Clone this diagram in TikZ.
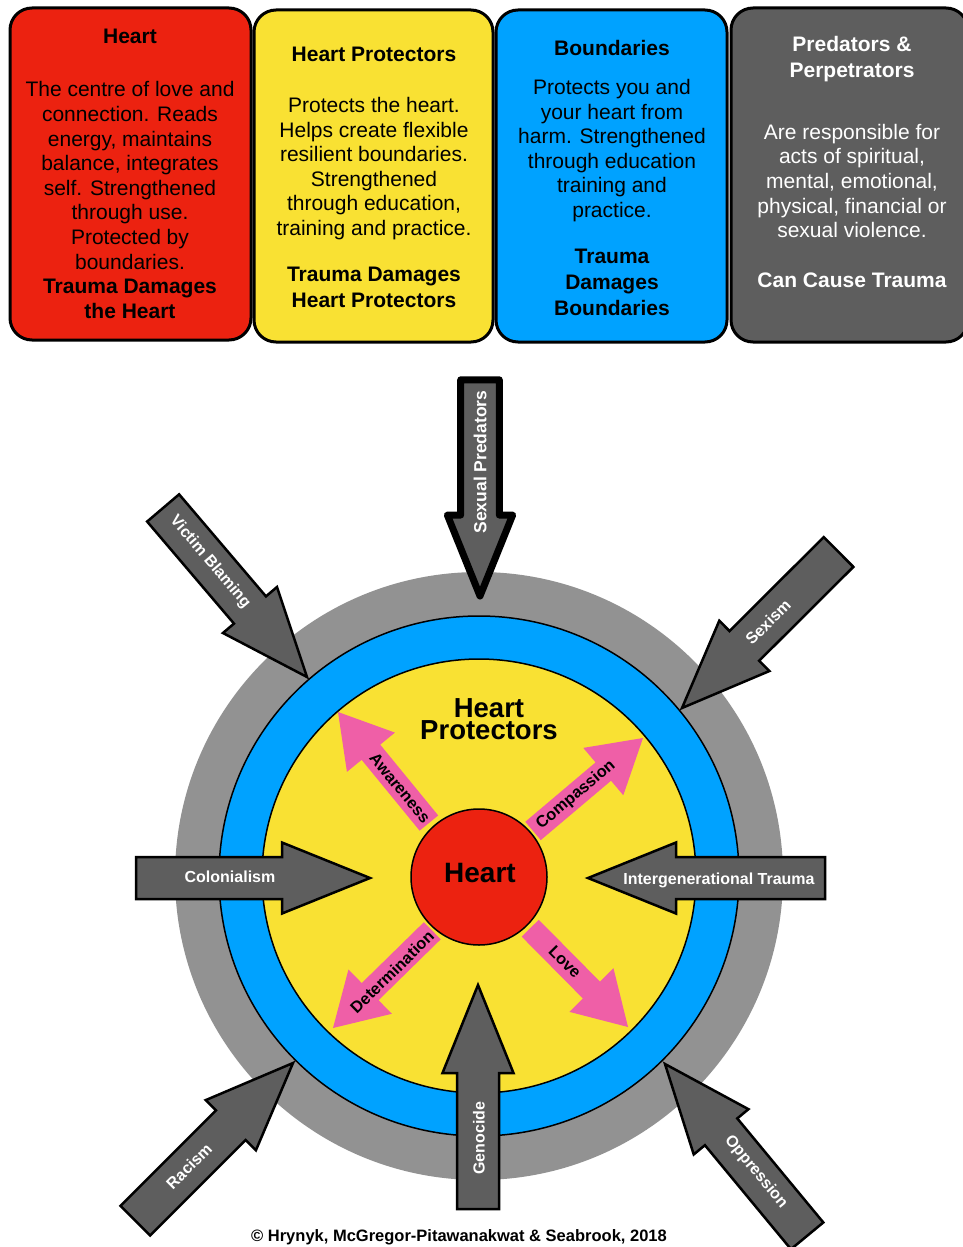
\documentclass[tikz,border=0pt]{standalone}
\usepackage{fontspec}
\setmainfont{Liberation Sans}
\usepackage{tikz}
\usetikzlibrary{positioning}
\definecolor{heart red}{RGB}{236,34,16}
\definecolor{protector yellow}{RGB}{249,225,51}
\definecolor{boundary blue}{RGB}{0,162,255}
\definecolor{threat grey}{RGB}{94,94,94}
\definecolor{ring grey}{RGB}{146,146,146}
\definecolor{value pink}{RGB}{239,95,167}
\tikzset{card/.style={line width=3pt, rounded corners=22pt}}
\tikzset{card title/.style={font=\bfseries\fontsize{21}{26}\selectfont, align=center, inner sep=0pt}}
\tikzset{card text/.style={font=\fontsize{21}{24.6}\selectfont, align=center, inner sep=0pt}}
\tikzset{ring/.style={line width=1.5pt}}
\tikzset{threat body/.style={fill=threat grey, draw=black, line width=2.5pt}}
\tikzset{threat label/.style={text=white, font=\bfseries\fontsize{16}{19}\selectfont, inner sep=0pt}}
\tikzset{value label/.style={font=\bfseries\fontsize{16.3}{19}\selectfont, inner sep=0pt}}
\tikzset{pics/threat/.style={code={\draw[threat body] (0,0) -- (-88,35.5) -- (-88,21) -- (-#1,21) -- (-#1,-21) -- (-88,-21) -- (-88,-35.5) -- cycle;}}}
\tikzset{pics/value/.style={code={\fill[value pink] (0,0) -- (-52,31) -- (-52,12) -- (-#1,12) -- (-#1,-12) -- (-52,-12) -- (-52,-31) -- cycle;}}}

\begin{document}
\begin{tikzpicture}[x=1pt, y=-1pt]
                \useasboundingbox (0,0) rectangle (962,1247);
                \draw[card, fill=heart red] (10,8) rectangle (251,340);
                \node[card title] (heart title) at (130,36) {Heart};
                \node[card text] (heart text) at (130,200) {The centre of love and\\connection. Reads\\energy, maintains\\balance, integrates\\self. Strengthened\\through use.\\Protected by\\boundaries.\\\textbf{Trauma Damages}\\\textbf{the Heart}};
                \draw[card, fill=protector yellow] (254,10) rectangle (493,342);
                \node[card title] (protectors title) at (374,54) {Heart Protectors};
                \node[card text] (protectors text) at (374,168.5) {Protects the heart.\\Helps create flexible\\resilient boundaries.\\Strengthened\\through education,\\training and practice.};
                \node[card title] (protectors trauma) at (374,287) {Trauma Damages\\Heart Protectors};
                \draw[card, fill=boundary blue] (496,10) rectangle (727,342);
                \node[card title] (boundaries title) at (612,48) {Boundaries};
                \node[card text] (boundaries text) at (612,150.5) {Protects you and\\your heart from\\harm. Strengthened\\through education\\training and\\practice.};
                \node[card title] (boundaries trauma) at (612,282) {Trauma\\Damages\\Boundaries};
                \draw[card, fill=threat grey] (731,8) rectangle (968,342);
                \node[card title, text=white] (predators title) at (852,59) {Predators \&\\Perpetrators};
                \node[card text, text=white] (predators text) at (852,181) {Are responsible for\\acts of spiritual,\\mental, emotional,\\physical, financial or\\sexual violence.};
                \node[card title, text=white] (predators trauma) at (852,280) {Can Cause Trauma};
                \fill[ring grey] (479,876) circle (304);
                \draw[ring, fill=boundary blue] (479,876) circle (260);
                \draw[ring, fill=protector yellow] (479,876) circle (217);
                \pic[rotate=129.3] at (338,712) {value=143.5};
                \pic[rotate=40.2] at (643,738) {value=144};
                \pic[rotate=-135.6] at (333,1028) {value=139};
                \pic[rotate=-45.3] at (628,1027) {value=139};
                \node[value label, rotate=-50.7] (awareness) at (400,788) {Awareness};
                \node[value label, rotate=40.2] (compassion) at (576,795) {Compassion};
                \node[value label, rotate=44.4] (determination) at (392,972) {Determination};
                \node[value label, rotate=-45.3] (love) at (565,962) {Love};
                \node[circle, draw, ring, fill=heart red, minimum size=136pt, inner sep=0pt] (heart) at (479,877) {};
                \node[font=\bfseries\fontsize{28}{30}\selectfont, inner sep=0pt] (heart label) at (480,873) {Heart};
                \node[font=\bfseries\fontsize{27.5}{22}\selectfont, align=center, inner sep=0pt] (protectors label) at (489,719) {Heart\\Protectors};
                \pic[rotate=-90, scale=0.92, threat body/.append style={line width=7pt, line join=round}] at (480,596) {threat=235};
                \pic[rotate=-49.6] at (307,677) {threat=222};
                \pic[rotate=-135.1] at (682,708) {threat=221};
                \pic[rotate=0] at (370,878) {threat=234};
                \pic[rotate=180] at (588,878) {threat=237};
                \pic[rotate=45] at (293,1063) {threat=223};
                \pic[rotate=90] at (478,985) {threat=224};
                \pic[rotate=129.6] at (665,1064) {threat=223};
                \node[threat label, rotate=90, font=\bfseries\fontsize{17.5}{20}\selectfont] (sexual predators) at (480,462) {Sexual Predators};
                \node[threat label, rotate=-49.6] (victim blaming) at (210,562) {Victim Blaming};
                \node[threat label, rotate=44.9] (sexism) at (768,622) {Sexism};
                \node[threat label] (colonialism) at (230,877) {Colonialism};
                \node[threat label] (intergenerational) at (719,880) {Intergenerational Trauma};
                \node[threat label, rotate=45] (racism) at (189,1166) {Racism};
                \node[threat label, rotate=90] (genocide) at (479,1138) {Genocide};
                \node[threat label, rotate=-50.4] (oppression) at (756,1172) {Oppression};
                \node[font=\bfseries\fontsize{16.5}{19}\selectfont, inner sep=0pt] (credit) at (459,1237) {© Hrynyk, McGregor-Pitawanakwat \& Seabrook, 2018};
            \end{tikzpicture}
\end{document}
